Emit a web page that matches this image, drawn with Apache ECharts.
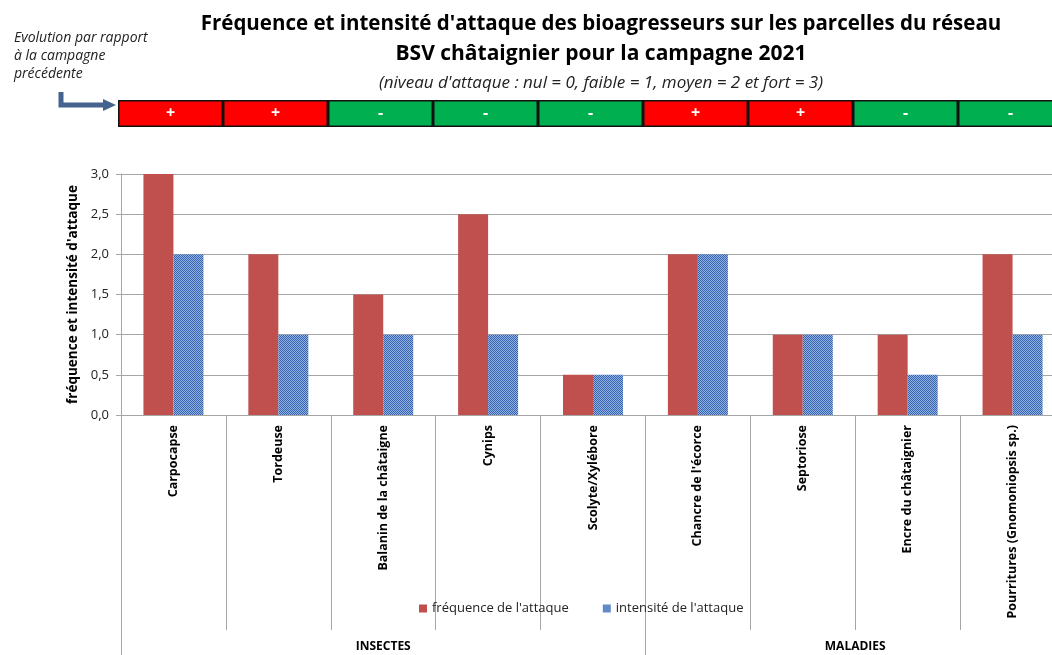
<!DOCTYPE html>
<html>
<head>
<meta charset="utf-8">
<script src="https://cdn.jsdelivr.net/npm/echarts@6/dist/echarts.min.js"></script>
<style>
  html, body { margin: 0; padding: 0; background: #fff; }
  #chart { width: 1052px; height: 655px; }
</style>
</head>
<body>
<div id="chart"></div>
<script>
// données
const categories = [
  "Carpocapse", "Tordeuse", "Balanin de la châtaigne", "Cynips", "Scolyte/Xylébore",
  "Chancre de l'écorce", "Septoriose", "Encre du châtaignier", "Pourritures (Gnomoniopsis sp.)"
];
const frequence = [3, 2, 1.5, 2.5, 0.5, 2, 1, 1, 2];
const intensite = [2, 1, 1, 1, 0.5, 2, 1, 0.5, 1];
const evolution = ["+", "+", "-", "-", "-", "+", "+", "-", "-"];
const groupes = [
  { nom: "INSECTES", debut: 0, fin: 5 },
  { nom: "MALADIES", debut: 5, fin: 9 }
];
const yTicks = [0, 0.5, 1, 1.5, 2, 2.5, 3];

const FONT = "'Open Sans', 'Liberation Sans', sans-serif";

// motif pointillé bleu pour l'intensité
function makePattern() {
  const c = document.createElement('canvas');
  c.width = 2; c.height = 2;
  const ctx = c.getContext('2d');
  ctx.fillStyle = '#8db3e8';
  ctx.fillRect(0, 0, 2, 2);
  ctx.fillStyle = '#3a62a8';
  ctx.fillRect(0, 0, 1, 1);
  ctx.fillRect(1, 1, 1, 1);
  return c;
}
const bluePattern = { image: makePattern(), repeat: 'repeat' };

const chart = echarts.init(document.getElementById('chart'));

const groupLabelAt = {};
groupes.forEach(g => { groupLabelAt[(g.debut + g.fin) / 2] = g.nom; });
const groupBounds = [];
groupes.forEach(g => { groupBounds.push(g.debut); });
groupBounds.push(groupes[groupes.length - 1].fin);

chart.setOption({
  animation: false,
  textStyle: { fontFamily: FONT },
  title: [
    {
      text: "Fréquence et intensité d'attaque des bioagresseurs sur les parcelles du réseau",
      left: 596, top: 9, textAlign: 'center',
      textStyle: { fontSize: 20.5, fontWeight: 'bold', color: '#000', fontFamily: FONT }
    },
    {
      text: "BSV châtaignier pour la campagne 2021",
      left: 596, top: 39, textAlign: 'center',
      textStyle: { fontSize: 21, fontWeight: 'bold', color: '#000', fontFamily: FONT }
    },
    {
      text: "(niveau d'attaque : nul = 0, faible = 1, moyen = 2 et fort = 3)",
      left: 596, top: 70, textAlign: 'center',
      textStyle: { fontSize: 17, fontStyle: 'italic', fontWeight: 'normal', color: '#222', fontFamily: FONT }
    },
    {
      text: "Evolution par rapport\nà la campagne\nprécédente",
      left: 9, top: 24,
      textStyle: { fontSize: 14, fontStyle: 'italic', fontWeight: 'normal', color: '#222', lineHeight: 18, fontFamily: FONT }
    }
  ],
  legend: {
    data: ["fréquence de l'attaque", "intensité de l'attaque"],
    left: 414, top: 597,
    itemWidth: 8, itemHeight: 8, itemGap: 34,
    icon: 'rect',
    textStyle: { fontSize: 13, color: '#222', fontFamily: FONT }
  },
  graphic: [
    {
      type: 'polyline',
      shape: { points: [[61, 92], [61, 105], [104, 105]] },
      style: { stroke: '#44638f', lineWidth: 5, fill: null }
    },
    {
      type: 'polygon',
      shape: { points: [[103, 99], [116, 105], [103, 111]] },
      style: { fill: '#44638f' }
    }
  ],
  grid: [
    { left: 121, width: 944, top: 174, bottom: 240, outerBoundsMode: 'none' },
    { left: 118, width: 945, top: 100, height: 27, outerBoundsMode: 'none' }
  ],
  xAxis: [
    {
      type: 'category', gridIndex: 0, data: categories,
      axisLine: { lineStyle: { color: '#a6a6a6' } },
      axisTick: { show: true, interval: 0, length: 215, lineStyle: { color: '#a6a6a6' } },
      axisLabel: { interval: 0, rotate: 90, margin: 10, fontSize: 12.5, fontWeight: 'bold', color: '#000', fontFamily: FONT }
    },
    {
      type: 'value', gridIndex: 0, position: 'bottom',
      min: 0, max: categories.length,
      splitLine: { show: false },
      axisLine: { show: false },
      axisTick: { show: true, customValues: groupBounds, length: 240, lineStyle: { color: '#a6a6a6' } },
      axisLabel: {
        customValues: Object.keys(groupLabelAt).map(Number),
        formatter: v => groupLabelAt[v] || '',
        margin: 226, fontSize: 12, fontWeight: 'bold', color: '#000', fontFamily: FONT
      }
    },
    {
      type: 'category', gridIndex: 1, data: categories,
      show: false
    }
  ],
  yAxis: [
    {
      type: 'value', gridIndex: 0, min: 0, max: 3, interval: 0.5,
      name: "fréquence et intensité d'attaque",
      nameLocation: 'middle', nameGap: 38, nameRotate: 90,
      nameTextStyle: { fontSize: 13.5, fontWeight: 'bold', color: '#000', fontFamily: FONT },
      axisLine: { show: true, lineStyle: { color: '#a6a6a6' } },
      axisTick: { show: true, length: 5, lineStyle: { color: '#a6a6a6' } },
      splitLine: { lineStyle: { color: '#a6a6a6' } },
      axisLabel: {
        margin: 12, fontSize: 13, color: '#222', fontFamily: FONT,
        formatter: v => yTicks.includes(v) ? v.toFixed(1).replace('.', ',') : ''
      }
    },
    { type: 'value', gridIndex: 1, min: 0, max: 1, show: false }
  ],
  series: [
    {
      name: "fréquence de l'attaque", type: 'bar',
      xAxisIndex: 0, yAxisIndex: 0,
      data: frequence, barWidth: 30, barGap: '0%',
      itemStyle: { color: '#c0504d' }
    },
    {
      name: "intensité de l'attaque", type: 'bar',
      xAxisIndex: 0, yAxisIndex: 0,
      data: intensite, barWidth: 30, barGap: '0%',
      itemStyle: { color: bluePattern }
    },
    {
      name: 'evolution', type: 'bar',
      xAxisIndex: 2, yAxisIndex: 1,
      barWidth: '100%', barCategoryGap: 0,
      data: evolution.map(s => ({
        value: 1,
        itemStyle: { color: s === '+' ? '#ff0000' : '#00b050' }
      })),
      itemStyle: { borderColor: '#111', borderWidth: 1.5 },
      label: {
        show: true, position: 'inside',
        formatter: p => evolution[p.dataIndex],
        color: '#fff', fontSize: 16, fontWeight: 'bold', fontFamily: FONT
      }
    }
  ]
});
</script>
</body>
</html>
